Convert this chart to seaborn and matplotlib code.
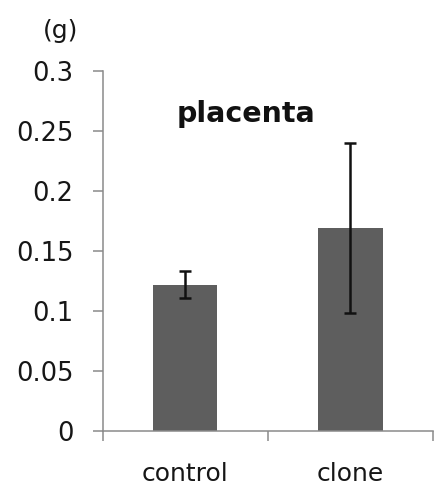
import matplotlib
matplotlib.use("Agg")
import matplotlib.pyplot as plt
import seaborn as sns
import pandas as pd

categories = ["control", "clone"]
means = [0.122, 0.169]
errors = [0.011, 0.071]
yticks = [0, 0.05, 0.1, 0.15, 0.2, 0.25, 0.3]
ytick_labels = ["0", "0.05", "0.1", "0.15", "0.2", "0.25", "0.3"]
title = "placenta"
unit = "(g)"

df = pd.DataFrame({"group": categories, "weight": means})

sns.set_theme(style="white")
plt.rcParams["font.family"] = ["DejaVu Sans"]

axis_col = "#8a8a8a"
text_col = "#161616"

fig = plt.figure(figsize=(4.43, 4.91), dpi=100)
ax = fig.add_axes([0.2314, 0.1222, 0.9774 - 0.2314, 0.8554 - 0.1222])

sns.barplot(data=df, x="group", y="weight", order=categories, color="#5e5e5e",
            saturation=1, width=0.39, errorbar=None, ax=ax, edgecolor="none")

xs = [p.get_x() + p.get_width() / 2 for p in ax.patches]
ax.errorbar(xs, means, yerr=errors, fmt="none", ecolor="#111111",
            elinewidth=1.8, capsize=4, capthick=1.8, zorder=3)

ax.set_xlim(-0.5, len(categories) - 0.5)
ax.set_ylim(0, 0.3)
ax.set_yticks(yticks)
ax.set_yticklabels(ytick_labels)

# Excel-style category boundary ticks, labels centred between them
ax.set_xticks([i - 0.5 for i in range(len(categories) + 1)])
ax.set_xticklabels([""] * (len(categories) + 1))
ax.set_xticks(list(range(len(categories))), minor=True)
ax.set_xticklabels(categories, minor=True)

ax.set_xlabel("")
ax.set_ylabel("")

for s in ["top", "right"]:
    ax.spines[s].set_visible(False)
for s in ["left", "bottom"]:
    ax.spines[s].set_color(axis_col)
    ax.spines[s].set_linewidth(1.1)

ax.tick_params(axis="y", which="major", direction="out", length=7, width=1.1,
               color=axis_col, labelsize=18.5, labelcolor=text_col, pad=14, left=True)
ax.tick_params(axis="x", which="major", direction="out", length=7, width=1.1,
               color=axis_col, bottom=True)
ax.tick_params(axis="x", which="minor", length=0, labelsize=18,
               labelcolor=text_col, pad=22)

ax.text(0.4327, 0.859, title, transform=ax.transAxes, ha="center", va="baseline",
        fontsize=20.5, fontweight="bold", color="#111111")
fig.text(61 / 443, 1 - 31 / 491, unit, ha="center", va="center",
         fontsize=18, color=text_col)

fig.savefig("out.png", dpi=100, facecolor="white")
